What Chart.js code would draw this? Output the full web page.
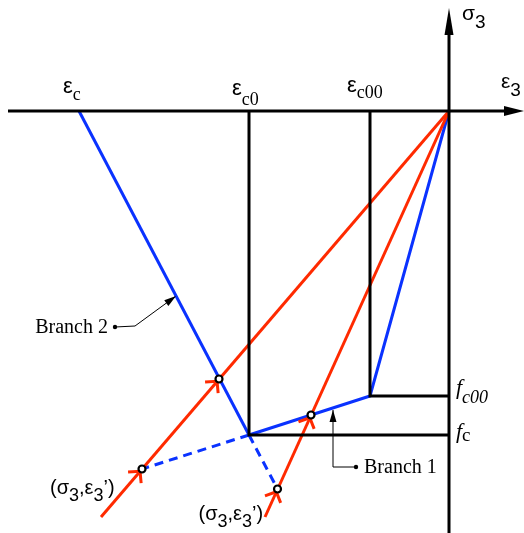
<!DOCTYPE html>
<html>
<head>
<meta charset="UTF-8">
<title>Loading / reloading branches</title>
<style>
  html, body { margin: 0; padding: 0; background: #fff; overflow: hidden; }
  #wrap { position: relative; width: 524px; height: 533px; }
</style>
</head>
<body>
<div id="wrap"><canvas id="diagram"></canvas></div>
<script src="https://cdn.jsdelivr.net/npm/chart.js"></script>
<script>
// strain / stress values (compression negative)
const strainKeys = [-37, -20, -7.9];          // eps_c, eps_c0, eps_c00
const strainSubs = ['c', 'c0', 'c00'];
const stressKeys = [-32.4, -28.5];            // f_c, f_c00
const stressSubs = ['c', 'c00'];

const branch2 = [{x: -37, y: 0}, {x: -20, y: -32.4}];
const branch2Ext = [{x: -20, y: -32.4}, {x: -17.15, y: -37.8}];
const branch1 = [{x: -20, y: -32.4}, {x: -7.9, y: -28.5}, {x: 0, y: 0}];
const branch1Ext = [{x: -20, y: -32.4}, {x: -30.7, y: -35.8}];
const reloadA = [{x: -34.8, y: -40.6}, {x: 0, y: 0}];
const reloadB = [{x: -18.4, y: -40.6}, {x: 0, y: 0}];
const crossPts = [{x: -23, y: -26.8}, {x: -30.7, y: -35.8}, {x: -13.8, y: -30.4}, {x: -17.15, y: -37.8}];
const leader2 = [{x: -33.4, y: -21.6}, {x: -31.4, y: -21.5}, {x: -27.3, y: -18.5}];
const leader1 = [{x: -9.3, y: -35.6}, {x: -11.6, y: -35.6}, {x: -11.6, y: -29.9}];

const BLUE = '#0a32ff';
const RED = '#ff2a00';

function seg(data, color, width, dash) {
  return { data, showLine: true, borderColor: color, borderWidth: width,
           borderDash: dash || [], pointRadius: 0, fill: false };
}

// frame lines at eps_c0/f_c and eps_c00/f_c00
const frame0 = [{x: strainKeys[1], y: 0}, {x: strainKeys[1], y: stressKeys[0]}, {x: 0, y: stressKeys[0]}];
const frame00 = [{x: strainKeys[2], y: 0}, {x: strainKeys[2], y: stressKeys[1]}, {x: 0, y: stressKeys[1]}];
const xAxis = [{x: -44.1, y: 0}, {x: 6, y: 0}];
const yAxis = [{x: 0, y: 8.4}, {x: 0, y: -42.2}];

function tri(ctx, tip, ang, len, half) {
  ctx.beginPath();
  ctx.moveTo(tip.x, tip.y);
  ctx.lineTo(tip.x - len * Math.cos(ang) + half * Math.sin(ang), tip.y - len * Math.sin(ang) - half * Math.cos(ang));
  ctx.lineTo(tip.x - len * Math.cos(ang) - half * Math.sin(ang), tip.y - len * Math.sin(ang) + half * Math.cos(ang));
  ctx.closePath();
  ctx.fill();
}

function px(chart, p) {
  return { x: chart.scales.x.getPixelForValue(p.x), y: chart.scales.y.getPixelForValue(p.y) };
}

function subText(ctx, x, y, main, sub, mainFont, subFont, drop) {
  ctx.font = mainFont;
  ctx.fillText(main, x, y);
  const w = ctx.measureText(main).width;
  ctx.font = subFont;
  ctx.fillText(sub, x + w, y + drop);
}

const sans = s => s + 'px "Liberation Sans", Arial, sans-serif';
const serif = s => s + 'px "Liberation Serif", "Times New Roman", serif';

const decor = {
  id: 'decor',
  beforeDatasetDraw(chart, args) {
    if (args.index !== 0) return;
    // direction chevrons on the reloading lines
    const ctx = chart.ctx;
    ctx.save();
    ctx.strokeStyle = RED;
    ctx.lineWidth = 3;
    const pairs = [[reloadA, crossPts[0]], [reloadA, crossPts[1]], [reloadB, crossPts[2]], [reloadB, crossPts[3]]];
    pairs.forEach(([line, c]) => {
      const a = px(chart, line[0]), b = px(chart, line[1]), p = px(chart, c);
      const back = Math.atan2(a.y - b.y, a.x - b.x);
      const ax = p.x + 3 * Math.cos(back), ay = p.y + 3 * Math.sin(back);
      ctx.beginPath();
      ctx.moveTo(ax + 12 * Math.cos(back + 0.8), ay + 12 * Math.sin(back + 0.8));
      ctx.lineTo(ax, ay);
      ctx.lineTo(ax + 12 * Math.cos(back - 0.8), ay + 12 * Math.sin(back - 0.8));
      ctx.stroke();
    });
    ctx.restore();
  },
  afterDraw(chart) {
    const ctx = chart.ctx;
    const o = px(chart, {x: 0, y: 0});
    ctx.save();
    ctx.fillStyle = '#000';
    // axis arrowheads
    tri(ctx, px(chart, {x: 7.5, y: 0}), 0, 20, 5);
    tri(ctx, px(chart, {x: 0, y: 10.3}), -Math.PI / 2, 27, 4.5);
    // leader arrowheads and dots
    [leader2, leader1].forEach(l => {
      const a = px(chart, l[1]), b = px(chart, l[2]);
      tri(ctx, b, Math.atan2(b.y - a.y, b.x - a.x), 12, 3.5);
      const d = px(chart, l[0]);
      ctx.beginPath(); ctx.arc(d.x, d.y, 2.2, 0, Math.PI * 2); ctx.fill();
    });

    ctx.textBaseline = 'alphabetic';
    ctx.textAlign = 'left';

    // strain labels above the axis: [left shift, baseline above axis, sub drop]
    const strainPos = [[16, 18, 7], [17, 16, 10], [23, 19, 6]];
    strainKeys.forEach((v, i) => {
      const x = chart.scales.x.getPixelForValue(v);
      const [dx, up, drop] = strainPos[i];
      subText(ctx, x - dx, o.y - up, 'ε', strainSubs[i], sans(22), serif(18), drop);
    });
    // axis names
    subText(ctx, o.x + 13, o.y - 91, 'σ', '3', sans(21), sans(19), 8);
    subText(ctx, o.x + 52, o.y - 23, 'ε', '3', sans(21), sans(19), 8);

    // stress level labels
    const stressPos = [[3, 3, serif(19)], [-2, 9, 'italic ' + serif(18)]];
    stressKeys.forEach((v, i) => {
      const y = chart.scales.y.getPixelForValue(v);
      const [dy, drop, subFont] = stressPos[i];
      subText(ctx, o.x + 7, y + dy, 'f', stressSubs[i], 'italic ' + serif(22), subFont, drop);
    });

    // branch names
    ctx.font = serif(20);
    const l2 = px(chart, leader2[0]);
    ctx.textAlign = 'right';
    ctx.fillText('Branch 2', l2.x - 7, l2.y + 6);
    const l1 = px(chart, leader1[0]);
    ctx.textAlign = 'left';
    ctx.fillText('Branch 1', l1.x + 8, l1.y + 6);

    // stress-strain point labels
    const pA = px(chart, crossPts[1]), pB = px(chart, crossPts[3]);
    [[pA, -92, 25], [pB, -79, 31]].forEach(([p, dx, dy]) => {
      let x = p.x + dx;
      const y = p.y + dy;
      const parts = [['(σ', 0, 20], ['3', 7, 18], [',ε', 0, 20], ['3', 7, 18], ['’)', 0, 20]];
      parts.forEach(([t, drop, s]) => {
        ctx.font = sans(s);
        ctx.fillText(t, x, y + drop);
        x += ctx.measureText(t).width;
      });
    });
    ctx.restore();
  }
};

new Chart(document.getElementById('diagram'), {
  type: 'scatter',
  data: {
    datasets: [
      { data: crossPts, showLine: false, pointRadius: 3.5, pointBorderWidth: 2.2,
        pointBackgroundColor: '#fff', pointBorderColor: '#000' },
      seg(xAxis, '#000', 3),
      seg(yAxis, '#000', 3),
      seg(frame0, '#000', 3),
      seg(frame00, '#000', 3),
      seg(reloadA, RED, 3),
      seg(reloadB, RED, 3),
      seg(branch2, BLUE, 3),
      seg(branch1, BLUE, 3),
      seg(branch2Ext, BLUE, 3, [9, 6]),
      seg(branch1Ext, BLUE, 3, [9, 6]),
      seg(leader2, '#000', 1),
      seg(leader1, '#000', 1)
    ]
  },
  options: {
    responsive: true,
    maintainAspectRatio: false,
    animation: false,
    layout: { padding: 0, autoPadding: false },
    plugins: { legend: { display: false }, tooltip: { enabled: false } },
    scales: {
      x: { type: 'linear', min: -44.9, max: 7.5, display: false },
      y: { type: 'linear', min: -42.2, max: 11.1, display: false }
    }
  },
  plugins: [decor]
});
</script>
</body>
</html>
